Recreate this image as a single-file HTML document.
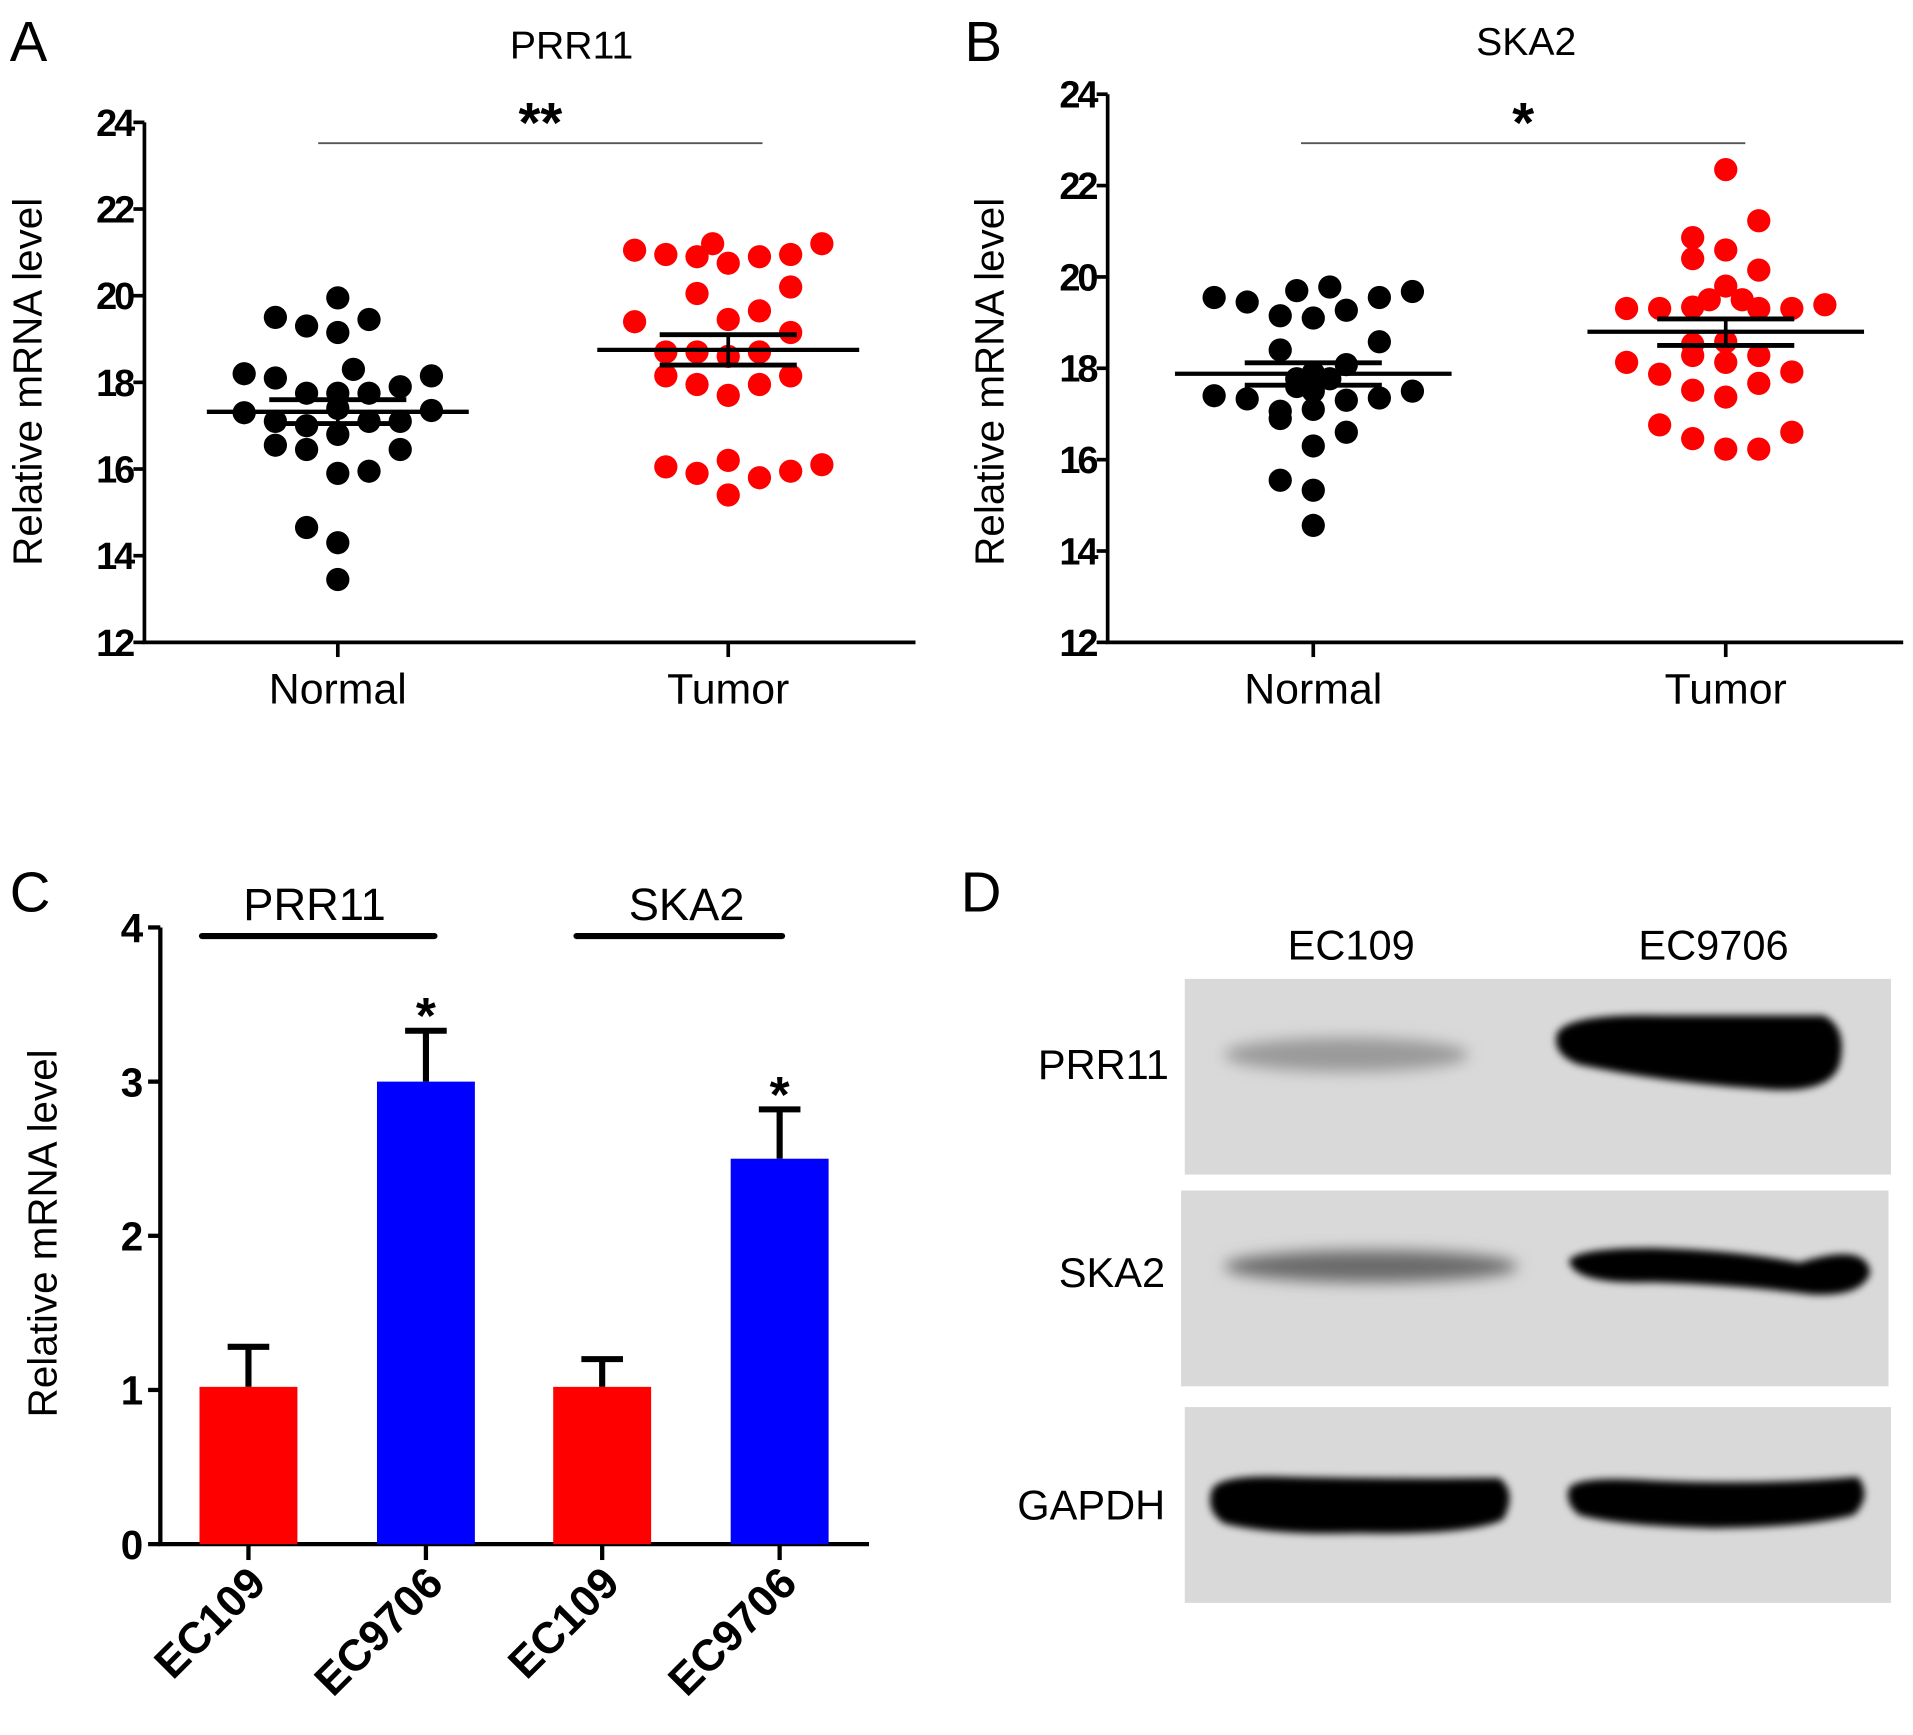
<!DOCTYPE html>
<html><head><meta charset="utf-8"><style>
html,body{margin:0;padding:0;background:#fff}
svg{display:block}
text{font-family:"Liberation Sans",Arial,sans-serif}
</style></head><body>
<svg id="fig" width="1913" height="1735" viewBox="0 0 1563 1418" preserveAspectRatio="none" xmlns="http://www.w3.org/2000/svg">
<defs>
<filter id="blur" x="-20%" y="-50%" width="140%" height="200%"><feGaussianBlur stdDeviation="6"/></filter>
<filter id="blur2" x="-20%" y="-50%" width="140%" height="200%"><feGaussianBlur stdDeviation="3"/></filter>
</defs>
<g id="panelA"></g>
<g id="panelB"></g>
<g id="panelC"></g>
<g id="panelD">
  <text x="8" y="745" font-size="46">C</text>
  <text x="785" y="745" font-size="46">D</text>
  <text x="1104" y="784" font-size="34" text-anchor="middle">EC109</text>
  <text x="1400" y="784" font-size="34" text-anchor="middle">EC9706</text>
  <g>
    <rect x="968" y="800" width="577" height="160" fill="#d9d9d9"/>
    <ellipse cx="1100" cy="862" rx="100" ry="14" fill="#9a9a9a" filter="url(#blur)"/>
    <path d="M1272,845 Q1280,828 1360,830 L1490,830 Q1510,840 1503,870 Q1495,895 1440,890 Q1360,885 1290,870 Q1268,862 1272,845Z" fill="#000" filter="url(#blur2)"/>
  </g>
  <g>
    <rect x="965" y="973" width="578" height="160" fill="#d9d9d9"/>
    <ellipse cx="1120" cy="1035" rx="120" ry="13" fill="#6a6a6a" filter="url(#blur)"/>
    <path d="M1282,1030 Q1290,1020 1350,1020 Q1420,1022 1470,1032 Q1525,1015 1528,1040 Q1522,1060 1480,1058 Q1420,1050 1350,1048 Q1285,1050 1282,1030Z" fill="#000" filter="url(#blur2)"/>
  </g>
  <g>
    <rect x="968" y="1150" width="577" height="160" fill="#d9d9d9"/>
    <path d="M990,1218 Q995,1205 1050,1207 Q1150,1209 1225,1208 Q1240,1220 1228,1242 Q1200,1255 1110,1253 Q1040,1255 1000,1245 Q985,1235 990,1218Z" fill="#000" filter="url(#blur2)"/>
    <path d="M1282,1216 Q1290,1206 1350,1210 Q1440,1214 1518,1207 Q1530,1222 1515,1238 Q1480,1248 1400,1249 Q1320,1247 1290,1238 Q1278,1228 1282,1216Z" fill="#000" filter="url(#blur2)"/>
  </g>
  <text x="955" y="882" font-size="34" text-anchor="end">PRR11</text>
  <text x="952" y="1052" font-size="34" text-anchor="end">SKA2</text>
  <text x="952" y="1242" font-size="34" text-anchor="end">GAPDH</text>
</g>
</svg>
<script>
// Panel A data (PRR11)
const aNormalValues=[19.5,19.3,19.95,19.15,19.45,18.2,18.1,18.3,17.9,18.15,17.75,17.75,17.75,17.3,17.1,17.0,17.4,17.1,17.1,17.35,16.8,16.55,16.45,16.45,15.9,15.95,14.65,14.3,13.45];
const aNormalCols=[-2,-1,0,0,1,-3,-2,0.5,2,3,-1,0,1,-3,-2,-1,0,1,2,3,0,-2,-1,2,0,1,-1,0,0];
const aTumorValues=[21.05,20.95,20.9,21.2,20.75,20.9,20.95,21.2,20.05,20.2,19.4,19.45,19.65,19.15,18.7,18.7,18.6,18.7,18.15,17.95,17.7,17.95,18.15,16.05,15.9,16.2,15.8,15.95,16.1,15.4];
const aTumorCols=[-3,-2,-1,-0.5,0,1,2,3,-1,2,-3,0,1,2,-2,-1,0,1,-2,-1,0,1,2,-2,-1,0,1,2,3,0];
const aStats={normal:[17.32,17.6,17.05],tumor:[18.75,19.1,18.4]};
// Panel B data (SKA2)
const bNormalValues=[19.55,19.45,19.7,19.78,19.55,19.68,19.15,19.1,19.27,18.58,18.4,18.08,17.9,17.77,17.77,17.4,17.33,17.6,17.5,17.3,17.35,17.5,17.06,17.1,16.9,16.6,16.3,15.55,15.33,14.56];
const bNormalCols=[-3,-2,-0.5,0.5,2,3,-1,0,1,2,-1,1,0,-0.5,0.5,-3,-2,-0.5,0,1,2,3,-1,0,-1,1,0,-1,0,0];
const bTumorValues=[22.35,21.23,20.86,20.59,20.4,20.15,19.8,19.31,19.31,19.34,19.5,19.5,19.31,19.31,19.39,18.53,18.58,18.28,18.28,18.13,18.13,17.92,17.87,17.52,17.67,17.37,16.76,16.46,16.23,16.23,16.6];
const bTumorCols=[0,1,-1,0,-1,1,0,-3,-2,-1,-0.5,0.5,1,2,3,-1,0,1,-1,-3,0,2,-2,-1,1,0,-2,-1,0,1,2];
const bStats={normal:[17.88,18.12,17.63],tumor:[18.8,19.08,18.5]};
const scatterTicks=[12,14,16,18,20,22,24];
const groupLabels=["Normal","Tumor"];
// Panel C data
const cCategories=["EC109","EC9706","EC109","EC9706"];
const cValues=[1.02,3.0,1.02,2.5];
const cErrors=[0.26,0.33,0.18,0.32];
const cTicks=[0,1,2,3,4];

const NS="http://www.w3.org/2000/svg";
function mk(parent,tag,attrs){const e=document.createElementNS(NS,tag);for(const k in attrs)e.setAttribute(k,attrs[k]);parent.appendChild(e);return e;}

function scatter(g,cfg){
  const y=v=>cfg.y0-(v-12)/12*(cfg.y0-cfg.y1);
  const ax=mk(g,'path',{d:`M${cfg.x0},${cfg.y1} L${cfg.x0},${cfg.y0} L${cfg.xEnd},${cfg.y0}`,stroke:'#000','stroke-width':3,fill:'none'});
  
  
  scatterTicks.forEach(t=>{
    const l=mk(g,'line',{x1:cfg.x0-9,x2:cfg.x0,y1:y(t),y2:y(t),stroke:'#000','stroke-width':3});
    
    
    const tx=mk(g,'text',{x:cfg.x0-10,y:y(t)+11,'font-size':31,'font-weight':'bold','text-anchor':'end','letter-spacing':'-2.5'});
    tx.textContent=t;
    
    
  });
  cfg.cx.forEach((cx,i)=>{
    const l=mk(g,'line',{x1:cx,x2:cx,y1:cfg.y0,y2:cfg.y0+12,stroke:'#000','stroke-width':3});
    
    
    const tx=mk(g,'text',{x:cx,y:cfg.y0+50,'font-size':35,'text-anchor':'middle'});
    tx.textContent=groupLabels[i];
    
    
  });
  const sets=[[cfg.nv,cfg.nc,'#000',cfg.cx[0]],[cfg.tv,cfg.tc,'#ff0000',cfg.cx[1]]];
  sets.forEach((s,si)=>{
    s[0].forEach((v,i)=>{
      const c=mk(g,'circle',{cx:s[3]+s[1][i]*cfg.unit,cy:y(v),r:9.5,fill:s[2]});
      
      
    });
  });
  [cfg.st.normal,cfg.st.tumor].forEach((st,i)=>{
    const cx=cfg.cx[i];
    const m=mk(g,'line',{x1:cx-cfg.mw,x2:cx+cfg.mw,y1:y(st[0]),y2:y(st[0]),stroke:'#000','stroke-width':3.5});
    
    
    [st[1],st[2]].forEach(v=>{
      const e=mk(g,'line',{x1:cx-56,x2:cx+56,y1:y(v),y2:y(v),stroke:'#000','stroke-width':4});
      
      
    });
    const vline=mk(g,'line',{x1:cx,x2:cx,y1:y(st[1]),y2:y(st[2]),stroke:'#000','stroke-width':3});
    
    
  });
  const sl=mk(g,'line',{x1:cfg.sig[0],x2:cfg.sig[1],y1:117,y2:117,stroke:'#555','stroke-width':1.5});
  
  
  const st=mk(g,'text',{x:(cfg.sig[0]+cfg.sig[1])/2,y:116,'font-size':46,'font-weight':'bold','text-anchor':'middle'});
  st.textContent=cfg.stars;
  
  
  const tt=mk(g,'text',{x:cfg.titleX,y:cfg.titleY,'font-size':32,'text-anchor':'middle'});
  tt.textContent=cfg.title;
  
  
  const yl=mk(g,'text',{x:0,y:0,'font-size':33,'text-anchor':'middle',transform:`translate(${cfg.ylx},${cfg.yly}) rotate(-90)`});
  yl.textContent='Relative mRNA level';
  
  
  const pl=mk(g,'text',{x:cfg.plx,y:50,'font-size':46});
  pl.textContent=cfg.letter;
  
  
}
scatter(document.getElementById('panelA'),{x0:118,xEnd:748,y0:525,y1:100,cx:[276,595],unit:25.5,mw:107,nv:aNormalValues,nc:aNormalCols,tv:aTumorValues,tc:aTumorCols,st:aStats,sig:[260,623],stars:'**',title:'PRR11',titleX:467,titleY:48,ylx:34,yly:312,plx:8,letter:'A'});
scatter(document.getElementById('panelB'),{x0:905,xEnd:1555,y0:525,y1:77,cx:[1073,1410],unit:27,mw:113,nv:bNormalValues,nc:bNormalCols,tv:bTumorValues,tc:bTumorCols,st:bStats,sig:[1063,1426],stars:'*',title:'SKA2',titleX:1247,titleY:45,ylx:820,yly:312,plx:788,letter:'B'});

// Panel C
(function(){
  const g=document.getElementById('panelC');
  const x0=131,y0=1262,yTop=758,xEnd=710;
  const y=v=>y0-v/4*(y0-yTop);
  const centers=[203,348,492,637];
  const colors=['#ff0000','#0000ff','#ff0000','#0000ff'];
  const ax=mk(g,'path',{d:`M${x0},${yTop} L${x0},${y0} L${xEnd},${y0}`,stroke:'#000','stroke-width':3.5,fill:'none'});
  
  
  cTicks.forEach(t=>{
    const l=mk(g,'line',{x1:x0-10,x2:x0,y1:y(t),y2:y(t),stroke:'#000','stroke-width':3.5});
    
    
    const tx=mk(g,'text',{x:x0-14,y:y(t)+12,'font-size':33,'font-weight':'bold','text-anchor':'end'});
    tx.textContent=t;
    
    
  });
  cValues.forEach((v,i)=>{
    const cx=centers[i];
    const e=mk(g,'path',{d:`M${cx},${y(v)} L${cx},${y(v+cErrors[i])} M${cx-17},${y(v+cErrors[i])} L${cx+17},${y(v+cErrors[i])}`,stroke:'#000','stroke-width':5,fill:'none'});
    
    
    const b=mk(g,'rect',{x:cx-40,y:y(v),width:80,height:y0-y(v),fill:colors[i]});
    
    
    const l=mk(g,'line',{x1:cx,x2:cx,y1:y0,y2:y0+13,stroke:'#000','stroke-width':3.5});
    
    
    const tx=mk(g,'text',{x:0,y:0,'font-size':36,'font-weight':'bold','text-anchor':'end',transform:`translate(${cx+16},${y0+34}) rotate(-45)`});
    tx.textContent=cCategories[i];
    
    
    if(i%2==1){
      const s=mk(g,'text',{x:cx,y:y(v+cErrors[i])+2,'font-size':42,'font-weight':'bold','text-anchor':'middle'});
      s.textContent='*';
      
      
    }
  });
  [['PRR11',165,355,257],['SKA2',471,639,561]].forEach(gr=>{
    const l=mk(g,'line',{x1:gr[1],x2:gr[2],y1:765,y2:765,stroke:'#000','stroke-width':5,'stroke-linecap':'round'});
    
    
    const t=mk(g,'text',{x:gr[3],y:752,'font-size':37,'text-anchor':'middle'});
    t.textContent=gr[0];
    
    
  });
  const yl=mk(g,'text',{x:0,y:0,'font-size':33,'text-anchor':'middle',transform:`translate(46,1008) rotate(-90)`});
  yl.textContent='Relative mRNA level';
  
  
})();
</script>
</body></html>
